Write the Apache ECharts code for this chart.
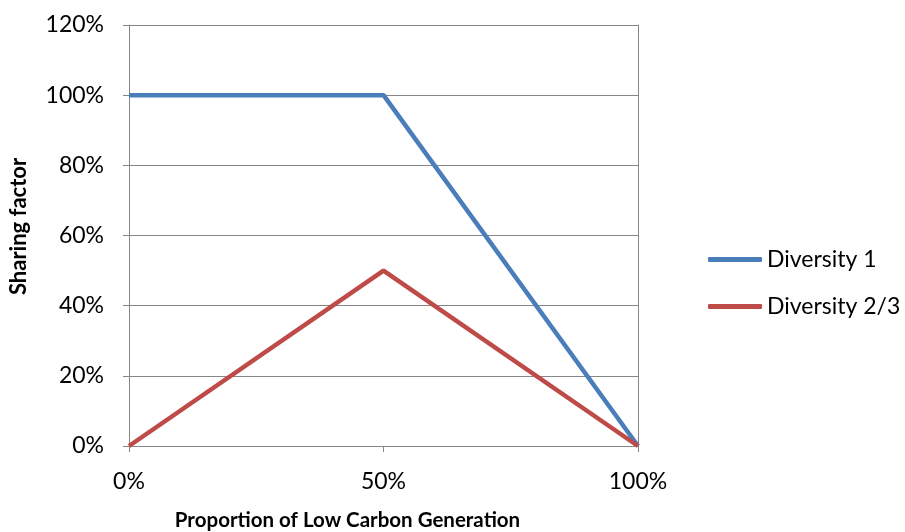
<!DOCTYPE html>
<html>
<head>
<meta charset="utf-8">
<script src="https://cdn.jsdelivr.net/npm/echarts@6/dist/echarts.min.js"></script>
<style>
  html, body { margin: 0; padding: 0; background: #fff; }
  #chart { width: 905px; height: 532px; }
</style>
</head>
<body>
<div id="chart"></div>
<script>
// Share of low carbon generation (x categories)
const categories = ['0%', '50%', '100%'];
// Sharing factor, in percent
const diversity1 = [100, 100, 0];
const diversity23 = [0, 50, 0];

const FONT = 'Lato, "Open Sans", sans-serif';
const AXIS_GREY = '#868686';
const chart = echarts.init(document.getElementById('chart'));

chart.setOption({
  animation: false,
  textStyle: { fontFamily: FONT },
  grid: {
    left: 129, right: 267, top: 25, bottom: 86,
    containLabel: false,
    outerBoundsMode: 'none'
  },
  legend: {
    orient: 'vertical',
    left: 708,
    top: 248,
    padding: 0,
    itemWidth: 54,
    itemHeight: 5,
    itemGap: 24,
    icon: 'roundRect',
    textStyle: { fontFamily: FONT, fontSize: 23, color: '#000' },
    data: ['Diversity 1', 'Diversity 2/3']
  },
  xAxis: {
    type: 'category',
    data: categories,
    boundaryGap: false,
    name: 'Proportion of Low Carbon Generation',
    nameLocation: 'middle',
    nameGap: 64,
    // title sits a little left of the plot centre
    nameTextStyle: { fontFamily: FONT, fontSize: 20.5, fontWeight: 'bold', color: '#000', padding: [0, 72, 0, 0] },
    axisLine: { lineStyle: { color: AXIS_GREY, width: 1 } },
    axisTick: { show: true, length: 6, alignWithLabel: true, lineStyle: { color: AXIS_GREY } },
    axisLabel: { fontFamily: FONT, fontSize: 23, color: '#000', margin: 24 },
    splitLine: { show: false }
  },
  yAxis: [{
    type: 'value',
    min: 0,
    max: 120,
    interval: 20,
    name: 'Sharing factor',
    nameLocation: 'middle',
    nameGap: 99,
    nameTextStyle: { fontFamily: FONT, fontSize: 22, fontWeight: 'bold', color: '#000', padding: [0, 0, 0, 18] },
    axisLine: { show: true, lineStyle: { color: AXIS_GREY, width: 1 } },
    axisTick: { show: true, length: 6, lineStyle: { color: AXIS_GREY } },
    axisLabel: { fontFamily: FONT, fontSize: 23, color: '#000', margin: 25, formatter: '{value}%' },
    splitLine: { show: true, lineStyle: { color: AXIS_GREY, width: 1 } }
  }, {
    // right-hand frame of the plot area
    type: 'value',
    min: 0,
    max: 120,
    interval: 20,
    position: 'right',
    axisLine: { show: true, lineStyle: { color: AXIS_GREY, width: 1 } },
    axisTick: { show: false },
    axisLabel: { show: false },
    splitLine: { show: false }
  }],
  series: [{
    name: 'Diversity 1',
    type: 'line',
    data: diversity1,
    symbol: 'none',
    lineStyle: { color: '#4A7EBB', width: 4.5 },
    itemStyle: { color: '#4A7EBB' },
    z: 3
  }, {
    name: 'Diversity 2/3',
    type: 'line',
    data: diversity23,
    symbol: 'none',
    lineStyle: { color: '#BE4B48', width: 4.5 },
    itemStyle: { color: '#BE4B48' },
    z: 4
  }]
});
</script>
</body>
</html>
